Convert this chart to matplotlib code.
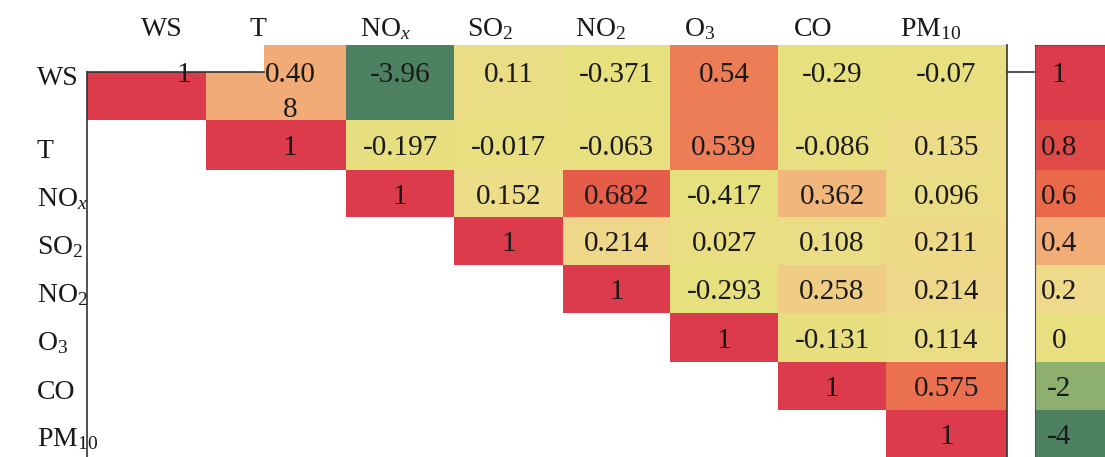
import numpy as np
import matplotlib
matplotlib.use('Agg')
import matplotlib.pyplot as plt
from matplotlib.colors import LinearSegmentedColormap, FuncNorm

plt.rcParams['font.family'] = ['Liberation Serif', 'DejaVu Serif']
plt.rcParams['mathtext.fontset'] = 'custom'
plt.rcParams['mathtext.rm'] = 'Liberation Serif'
plt.rcParams['mathtext.it'] = 'Liberation Serif:italic'

# Variables (rows top to bottom, columns left to right)
variables = ['WS', 'T', r'NO$_x$', r'SO$_2$', r'NO$_2$', r'O$_3$', 'CO', r'PM$_{10}$']

# Upper triangle as printed in the table, each row starts at the diagonal
ws_row = ['1', '0.40\n8', '-3.96', '0.11', '-0.371', '0.54', '-0.29', '-0.07']
t_row = ['1', '-0.197', '-0.017', '-0.063', '0.539', '-0.086', '0.135']
nox_row = ['1', '0.152', '0.682', '-0.417', '0.362', '0.096']
so2_row = ['1', '0.214', '0.027', '0.108', '0.211']
no2_row = ['1', '-0.293', '0.258', '0.214']
o3_row = ['1', '-0.131', '0.114']
co_row = ['1', '0.575']
pm10_row = ['1']

# Legend boxes on the right
legend_levels = [1, 0.8, 0.6, 0.4, 0.2, 0, -2, -4]
legend_labels = ['1', '0.8', '0.6', '0.4', '0.2', '0', '-2', '-4']

# Colour scale anchors
anchor_vals = [-4, -2, -0.5, 0, 0.2, 0.4, 0.6, 0.8, 1]
anchor_cols = ['#4e8062', '#8db06e', '#e6e07e', '#e8df80', '#eedb8a',
               '#f2ad78', '#e9694a', '#df4a48', '#db3b4a']

# Layout (pixels)
W, H = 1105, 457
left, top = 87, 45
col_px = [119, 140, 108, 109, 107, 108, 108, 121]
row_px = [75, 50, 47, 48, 48, 49, 48, 47]
header_dx = [15, -18, -15, -18, -16, -24, -19, -16]
text_dx = [37, 14, 0, 0, 0, 0, 0, 0]
notch_w = 177          # blank strip above the first diagonal cell
legend_left = 1035
fs_num, fs_lab = 21, 20

rows = [ws_row, t_row, nox_row, so2_row, no2_row, o3_row, co_row, pm10_row]
n = len(variables)
vals = np.full((n, n), np.nan)
texts = [[''] * n for _ in range(n)]
for i, r in enumerate(rows):
    for k, s in enumerate(r):
        vals[i, i + k] = float(s.replace('\n', ''))
        texts[i][i + k] = s

pos = np.linspace(0, 1, len(anchor_vals))
cmap = LinearSegmentedColormap.from_list('tbl', list(zip(pos, anchor_cols)))
norm = FuncNorm((lambda v: np.interp(v, anchor_vals, pos),
                 lambda u: np.interp(u, pos, anchor_vals)), vmin=-4, vmax=1)

x_edges = np.concatenate([[0], np.cumsum(col_px)])
y_edges = np.concatenate([[0], np.cumsum(row_px)])
x_mid = (x_edges[:-1] + x_edges[1:]) / 2
y_mid = (y_edges[:-1] + y_edges[1:]) / 2
# first row's text sits on the line at the top of the diagonal cell
text_y = y_mid.copy()
text_y[0] = 27
half_digit = 0.676 * fs_num * 100 / 72 / 2

fig = plt.figure(figsize=(W / 100, H / 100), dpi=100)
ax = fig.add_axes([left / W, 0, x_edges[-1] / W, y_edges[-1] / H])
ax.pcolormesh(x_edges, y_edges, np.ma.masked_invalid(vals), cmap=cmap, norm=norm,
              shading='flat', antialiased=False, edgecolors='none')
ax.fill_between([0, notch_w], 0, text_y[0], color='white', lw=0)
ax.set_xlim(0, x_edges[-1])
ax.set_ylim(y_edges[-1], 0)
ax.set_xticks([])
ax.set_yticks([])
for side in ['top', 'bottom']:
    ax.spines[side].set_visible(False)
ax.spines['left'].set_bounds(text_y[0], y_edges[-1])
for side in ['left', 'right']:
    ax.spines[side].set_color('#333333')
    ax.spines[side].set_linewidth(1.2)

for i in range(n):
    for j in range(n):
        if texts[i][j]:
            ax.text(x_mid[j] + text_dx[j], text_y[i] - half_digit, texts[i][j],
                    ha='center', va='top', fontsize=fs_num, color='#1a1a1a',
                    linespacing=1.45)

# table lines: under the first row and link to the legend
ax.plot([0, notch_w], [text_y[0], text_y[0]], color='#333333', lw=1.2, clip_on=False)
ax.plot([x_edges[-1], legend_left - left], [text_y[0], text_y[0]], color='#333333', lw=1.2,
        clip_on=False)

# column and row headers
for j, name in enumerate(variables):
    ax.text(x_mid[j] + header_dx[j], -9, name, ha='center', va='baseline', fontsize=fs_lab,
            color='#1a1a1a', clip_on=False)
for i, name in enumerate(variables):
    ax.text(-50, text_y[i] + 13, name, ha='left', va='baseline', fontsize=fs_lab,
            color='#1a1a1a', clip_on=False)

# legend column
lax = fig.add_axes([legend_left / W, 0, (W - legend_left) / W, y_edges[-1] / H])
lax.pcolormesh([0, 1], y_edges, np.array(legend_levels, dtype=float).reshape(-1, 1),
               cmap=cmap, norm=norm, shading='flat', antialiased=False, edgecolors='none')
lax.set_xlim(0, 1)
lax.set_ylim(y_edges[-1], 0)
lax.set_xticks([])
lax.set_yticks([])
for side in ['right', 'bottom']:
    lax.spines[side].set_visible(False)
for side in ['left', 'top']:
    lax.spines[side].set_color('#555555')
    lax.spines[side].set_linewidth(0.8)
for i, lab in enumerate(legend_labels):
    lax.text(0.34, text_y[i] - half_digit, lab, ha='center', va='top', fontsize=fs_num,
             color='#1a1a1a')

fig.savefig('out.png', dpi=100)
